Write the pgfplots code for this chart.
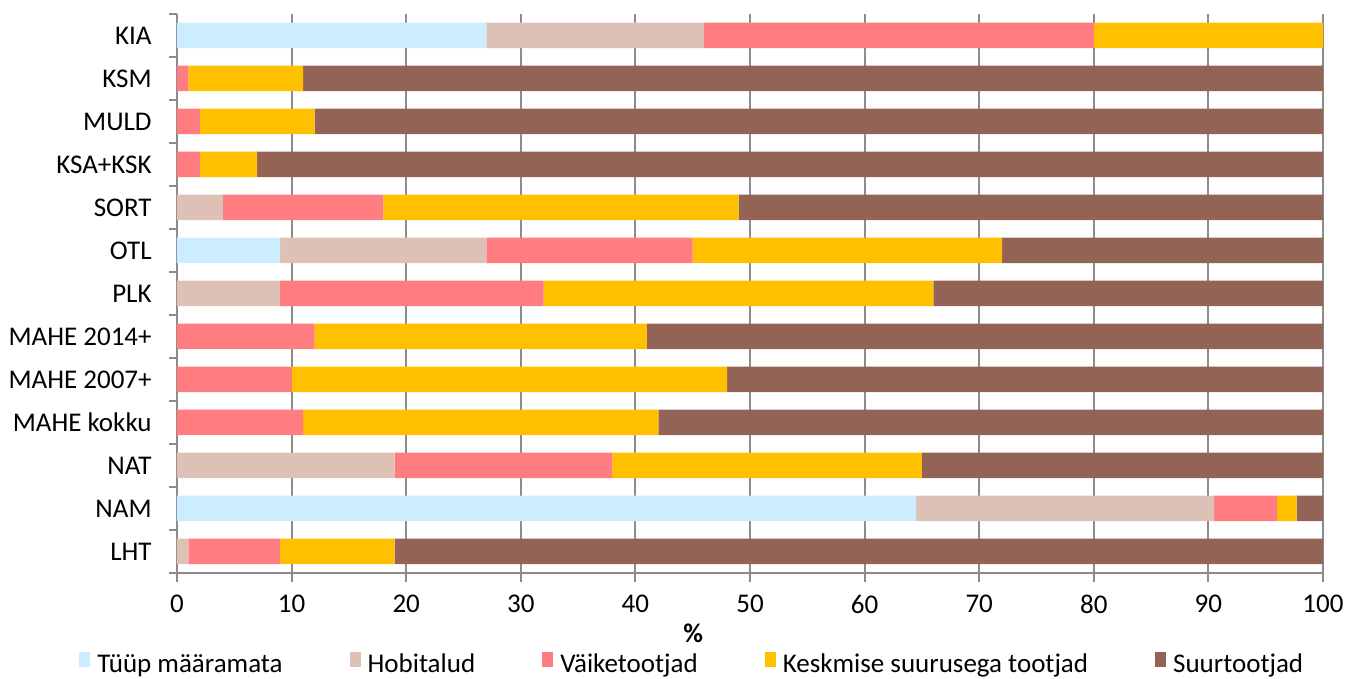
\documentclass[border=0pt]{standalone}
\usepackage{pgfplots}
\pgfplotsset{compat=1.18}
\usepackage{pgfplotstable}
\usepackage{fontspec}
\setmainfont{Carlito}
\definecolor{cBlue}{RGB}{204,236,255}
\definecolor{cHobi}{RGB}{221,193,183}
\definecolor{cVaike}{RGB}{255,124,128}
\definecolor{cKesk}{RGB}{255,192,0}
\definecolor{cSuur}{RGB}{147,100,85}
\definecolor{cGrid}{RGB}{140,140,140}
\pgfplotstableread{
y blue hobi vaike kesk suur
0 0 1 8 10 81
1 64.5 26 5.5 1.7 2.3
2 0 19 19 27 35
3 0 0 11 31 58
4 0 0 10 38 52
5 0 0 12 29 59
6 0 9 23 34 34
7 9 18 18 27 28
8 0 4 14 31 51
9 0 0 2 5 93
10 0 0 2 10 88
11 0 0 1 10 89
12 27 19 34 20 0
}\data
\begin{document}
\begin{tikzpicture}
\path[use as bounding box] (-88.5pt,-53pt) rectangle (584.5pt,286.5pt);
\begin{axis}[
  at={(0pt,0pt)}, anchor=south west,
  scale only axis, width=573pt, height=279.5pt,
  xbar stacked, bar width=12.75pt,
  xmin=0, xmax=100, ymin=-0.5, ymax=12.5,
  xtick={0,10,...,100},
  ytick={0,...,12},
  yticklabels={LHT,NAM,NAT,MAHE kokku,MAHE 2007+,MAHE 2014+,PLK,OTL,SORT,KSA+KSK,MULD,KSM,KIA},
  minor ytick={-0.5,0.5,...,12.5},
  every major y tick/.append style={draw=none},
  tick align=outside,
  major tick length=4.5pt, minor tick length=4pt,
  tick style={cGrid, line width=1pt},
  xmajorgrids, grid style={cGrid, line width=1pt},
  axis x line*=bottom, axis y line*=left,
  axis line style={cGrid, line width=1pt, -},
  /pgf/number format/assume math mode=true,
  tick label style={font=\fontsize{13.5}{16}\selectfont, text=black},
  yticklabel style={inner sep=0pt, xshift=-8pt},
  xticklabel style={inner sep=0pt, yshift=-6.5pt},
  xlabel={\textbf{\%}},
  xlabel style={font=\fontsize{13.5}{16}\selectfont, at={(axis description cs:0.4505,0)}, anchor=north, inner sep=0pt, yshift=-25pt},
  legend columns=5,
  legend style={draw=none, at={(axis description cs:0.4505,-0.1646)}, anchor=center,
    font=\fontsize{13.5}{16}\selectfont,
    /tikz/every even column/.append style={column sep=31.5pt}},
  legend image code/.code={\fill[#1] (0pt,-1pt) rectangle (5.5pt,6.5pt); \path (7pt,0pt);},
]
\addplot[fill=cBlue, draw=none] table[x=blue, y=y] {\data};
\addplot[fill=cHobi, draw=none] table[x=hobi, y=y] {\data};
\addplot[fill=cVaike, draw=none] table[x=vaike, y=y] {\data};
\addplot[fill=cKesk, draw=none] table[x=kesk, y=y] {\data};
\addplot[fill=cSuur, draw=none] table[x=suur, y=y] {\data};
\legend{Tüüp määramata, Hobitalud, Väiketootjad, Keskmise suurusega tootjad, Suurtootjad}
\end{axis}
\end{tikzpicture}
\end{document}
